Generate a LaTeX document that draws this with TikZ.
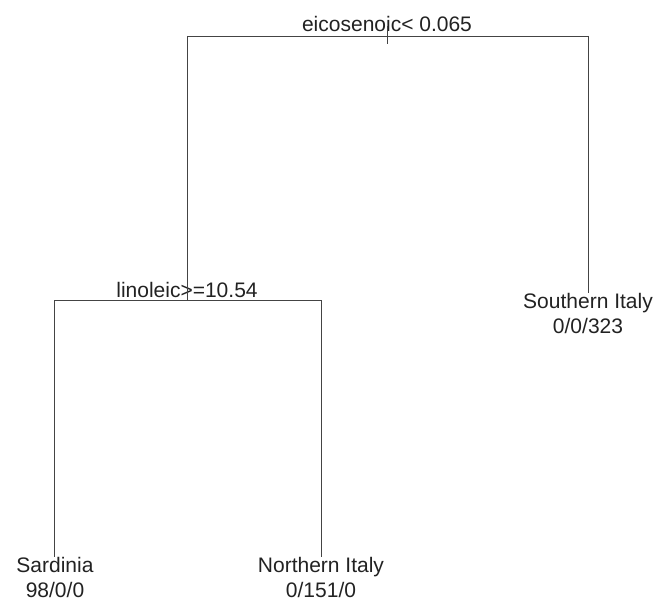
\documentclass[tikz,border=0pt]{standalone}
\usepackage{fontspec}
\setmainfont{Liberation Sans}
\usetikzlibrary{positioning}
\definecolor{branchgray}{HTML}{444444}
\definecolor{labelgray}{HTML}{222222}
\tikzstyle{branch} = [draw=branchgray, line width=0.9pt]
\tikzstyle{splitLabel} = [inner sep=0, anchor=base, text=labelgray, font=\fontsize{21}{25}\selectfont]
\tikzstyle{leafLabel} = [inner sep=0, anchor=north, align=center, text=labelgray, font=\fontsize{21}{25}\selectfont]

\begin{document}
\begin{tikzpicture}[x=1pt, y=-1pt]
  \useasboundingbox (0,0) rectangle (659,607);
  % split labels
  \node[splitLabel] (eico) at (387,32) {eicosenoic< 0.065};
  \node[splitLabel] (lino) at (187,297) {linoleic>=10.54};
  % leaf labels
  \node[leafLabel] (south) at (588,293) {Southern Italy\\0/0/323};
  \node[leafLabel] (sard) at (55,557) {Sardinia\\98/0/0};
  \node[leafLabel] (north) at (321,557) {Northern Italy\\0/151/0};
  % corners of the tree
  \coordinate (eicoL) at (187,36);
  \coordinate (eicoR) at (588,36);
  \coordinate (linoL) at (54,300);
  \coordinate (linoR) at (321,300);
  \coordinate (linoM) at (187,300);
  % 1st split
  \draw[branch] (eicoL) -- (eicoR);
  \draw[branch] ([yshift=-8pt]eicoL -| eico.south) -- ([yshift=10pt]eicoL -| eico.south);
  \draw[branch] (eicoL) -- (linoM);
  \draw[branch] (eicoR) -- (eicoR |- south.north);
  % 2nd split
  \draw[branch] (linoL) -- (linoR);
  \draw[branch] (linoL) -- (linoL |- sard.north);
  \draw[branch] (linoR) -- (linoR |- north.north);
\end{tikzpicture}
\end{document}
